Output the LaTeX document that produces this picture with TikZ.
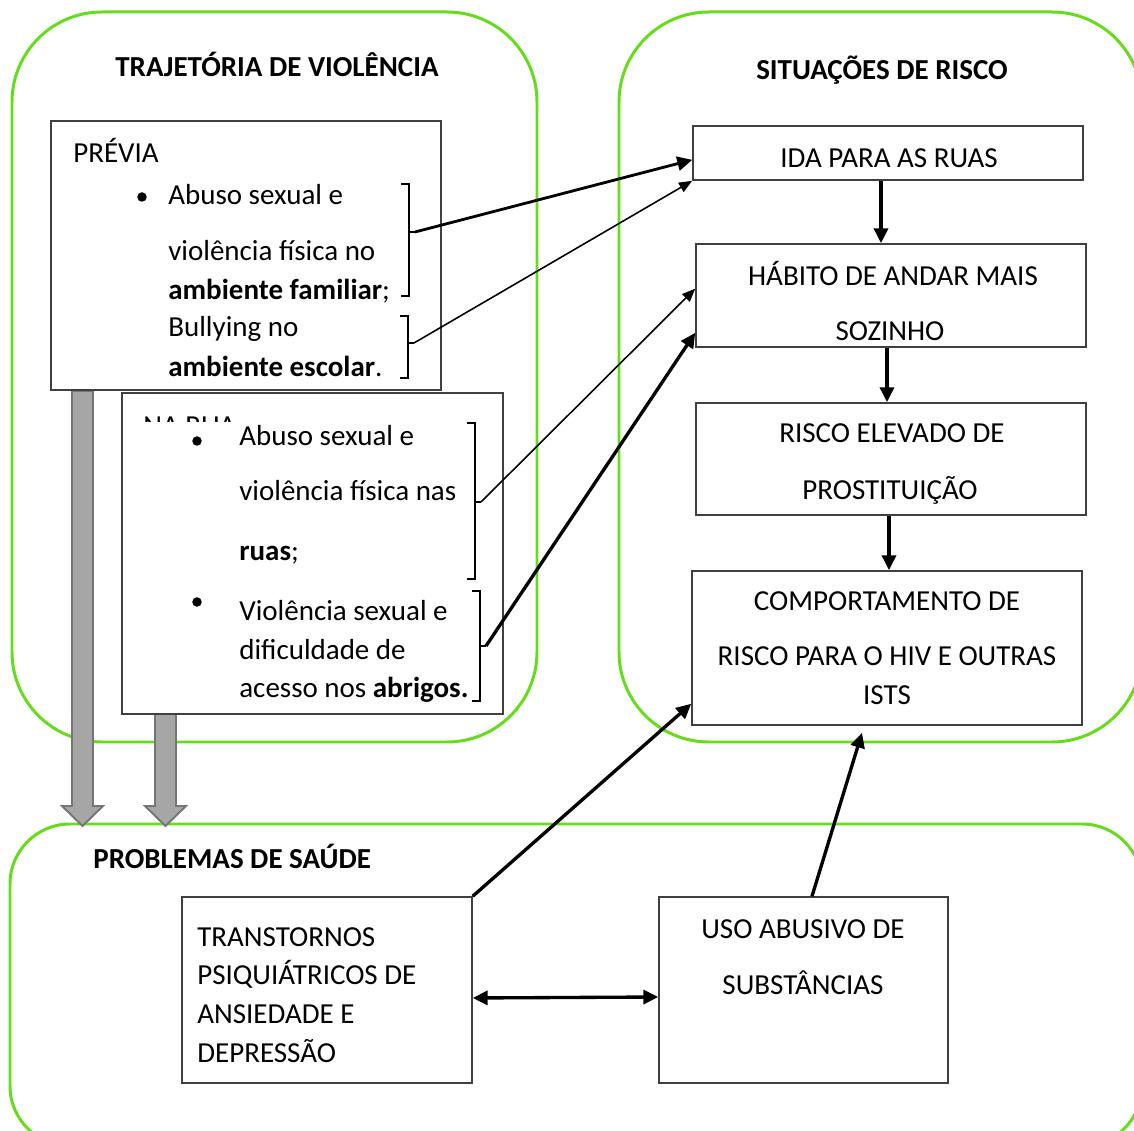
\documentclass[tikz,border=0pt]{standalone}
\usepackage{fontspec}
\setmainfont{Carlito}
\usetikzlibrary{arrows.meta}

\definecolor{zonegreen}{RGB}{102,221,26}
\definecolor{boxline}{RGB}{64,64,64}
\definecolor{blockfill}{RGB}{166,166,166}
\definecolor{blockline}{RGB}{118,118,118}

\newcommand{\diagfont}{\fontsize{16.5}{20}\selectfont}

\tikzset{
  zone/.style={draw=zonegreen, line width=1.7pt, rounded corners=1.8cm},
  box/.style={draw=boxline, line width=0.9pt, fill=white, inner sep=0pt},
  title/.style={font=\diagfont\bfseries, inner sep=0pt, anchor=base},
  ctxt/.style={inner sep=0pt, anchor=base},
  ltxt/.style={inner sep=0pt, anchor=base west},
  dot/.style={circle, fill=black, inner sep=0pt, minimum size=0.19cm},
  brace/.style={line width=1.7pt},
  link/.style={line width=1.9pt, -{Triangle[length=8.5pt,width=8pt]}},
  thinlink/.style={line width=0.9pt, -{Triangle[length=7.5pt,width=6pt]}},
  blockarrow/.style={fill=blockfill, draw=blockline, line width=1.1pt}
}

% name, x, top, bottom, middle
\newcommand{\sidebrace}[5]{%
  \draw[brace] (#2-8,#3) -- (#2,#3) -- (#2,#4) -- (#2-8,#4);
  \draw[brace] (#2,#5) -- (#2+6,#5);
  \coordinate (#1) at (#2+6,#5);}

\begin{document}
\begin{tikzpicture}[x=0.02cm, y=-0.02cm, font=\diagfont]
	\useasboundingbox (0,0) rectangle (1134,1131);
	\clip (0,0) rectangle (1134,1131);

	% zones
	\draw[zone] (12,12) rectangle (537,742);
	\draw[zone] (619,12) rectangle (1142,742);
	\draw[zone, rounded corners=1.2cm] (10,824) rectangle (1142,1146);

	\node[title] (trajtitle) at (277,77) {TRAJETÓRIA DE VIOLÊNCIA};
	\node[title] (sittitle) at (882,80) {SITUAÇÕES DE RISCO};
	\node[title, anchor=base west] (probtitle) at (93,869) {PROBLEMAS DE SAÚDE};

	% gray arrows
	\foreach \xm/\ytop in {82.5/391, 165.5/714}
		\draw[blockarrow] (\xm-10.5,\ytop) -- (\xm+10.5,\ytop) -- (\xm+10.5,806) -- (\xm+20.5,806)
			-- (\xm,826) -- (\xm-20.5,806) -- (\xm-10.5,806) -- cycle;

	% trajetoria
	\node[box, minimum width=7.8cm, minimum height=5.38cm] (previa) at (246,255.5) {};
	\node[ltxt] (previalbl) at (73,163) {PRÉVIA};
	\node[dot] (dot1) at (142,197) {};
	\node[ltxt] (p1) at (168,205) {Abuso sexual e};
	\node[ltxt] (p2) at (168,261) {violência física no};
	\node[ltxt] (p3) at (168,300) {\textbf{ambiente familiar};};
	\node[ltxt] (p4) at (168,337) {Bullying no};
	\node[ltxt] (p5) at (168,377) {\textbf{ambiente escolar}.};
	\sidebrace{b1}{409}{184}{296}{232}
	\sidebrace{b2}{408}{316}{378}{343}

	\node[box, minimum width=7.62cm, minimum height=6.42cm] (narua) at (312.5,553.5) {};
	\begin{scope}
		\clip (130,405) rectangle (260,422);
		\node[ltxt] (ruahead) at (143,436) {NA RUA};
	\end{scope}
	\node[dot] (dot2) at (197,441) {};
	\node[ltxt] (r1) at (239,446) {Abuso sexual e};
	\node[ltxt] (r2) at (239,501) {violência física nas};
	\node[ltxt] (r3) at (239,561) {\textbf{ruas};};
	\node[dot] (dot3) at (197,602) {};
	\node[ltxt] (r4) at (239,621) {Violência sexual e};
	\node[ltxt] (r5) at (239,660) {dificuldade de};
	\node[ltxt] (r6) at (239,698) {acesso nos \textbf{abrigos.}};
	\sidebrace{b3}{475}{423}{579}{502}
	\sidebrace{b4}{480}{591}{701}{646}

	% situacoes de risco
	\node[box, minimum width=7.8cm, minimum height=1.08cm] (ida) at (888,153) {};
	\node[ctxt] (idalbl) at (889,168) {IDA PARA AS RUAS};
	\node[box, minimum width=7.8cm, minimum height=2.06cm] (habito) at (891,295.5) {};
	\node[ctxt] (hab1) at (893,286) {HÁBITO DE ANDAR MAIS};
	\node[ctxt] (hab2) at (890,341) {SOZINHO};
	\node[box, minimum width=7.8cm, minimum height=2.24cm] (risco) at (891,459) {};
	\node[ctxt] (ris1) at (892,443) {RISCO ELEVADO DE};
	\node[ctxt] (ris2) at (890,500) {PROSTITUIÇÃO};
	\node[box, minimum width=7.8cm, minimum height=3.08cm] (comp) at (887,648) {};
	\node[ctxt] (comp1) at (887,611) {COMPORTAMENTO DE};
	\node[ctxt] (comp2) at (887,666) {RISCO PARA O HIV E OUTRAS};
	\node[ctxt] (comp3) at (887,705) {ISTS};

	% problemas de saude
	\node[box, minimum width=5.8cm, minimum height=3.72cm] (transt) at (327,990) {};
	\node[ltxt] (tr1) at (197,947) {TRANSTORNOS};
	\node[ltxt] (tr2) at (197,985) {PSIQUIÁTRICOS DE};
	\node[ltxt] (tr3) at (197,1024) {ANSIEDADE E};
	\node[ltxt] (tr4) at (197,1063) {DEPRESSÃO};
	\node[box, minimum width=5.78cm, minimum height=3.72cm] (uso) at (803.5,990) {};
	\node[ctxt] (uso1) at (803,939) {USO ABUSIVO DE};
	\node[ctxt] (uso2) at (803,995) {SUBSTÂNCIAS};

	% links
	\draw[link, line width=1.6pt] (b1) -- (ida.182);
	\draw[thinlink] (b2) -- (ida.south west);
	\draw[thinlink] (b3) -- (habito.178);
	\draw[link] (b4) -- ([yshift=0.3cm]habito.south west);
	\draw[link] (ida.south -| 881,0) -- (habito.north -| 881,0);
	\draw[link] (habito.south -| 887,0) -- (risco.north -| 887,0);
	\draw[link] (risco.south -| 889,0) -- (comp.north -| 889,0);
	\draw[link] (transt.north east) -- ([yshift=0.44cm]comp.south west);
	\draw[link] ([xshift=0.17cm]uso.north) -- ([xshift=-0.5cm,yshift=-0.14cm]comp.south);
	\draw[link, {Triangle[length=8.5pt,width=8pt]}-{Triangle[length=8.5pt,width=8pt]}] ([yshift=-0.16cm]transt.east) -- ([yshift=-0.14cm]uso.west);
\end{tikzpicture}
\end{document}
